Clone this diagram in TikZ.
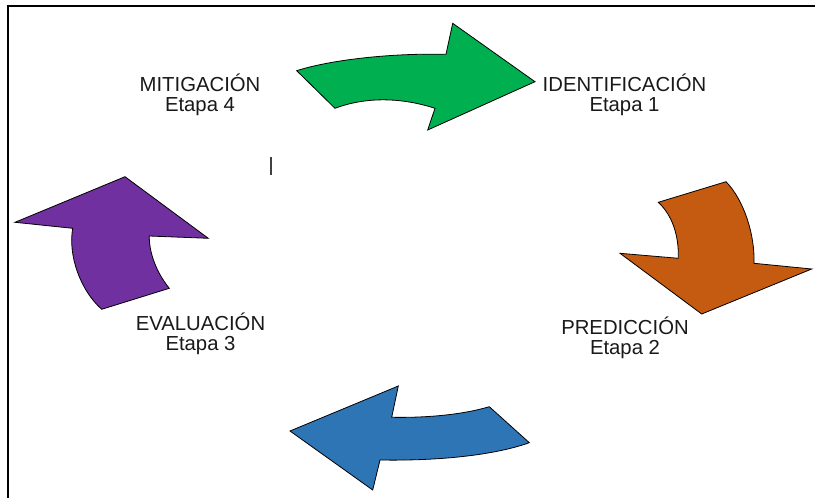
\documentclass[tikz,border=0pt]{standalone}
\usepackage{fontspec}
\setmainfont{Liberation Sans}
\definecolor{stepgreen}{HTML}{00B050}
\definecolor{steporange}{HTML}{C55A11}
\definecolor{stepblue}{HTML}{2E75B6}
\definecolor{steppurple}{HTML}{7030A0}
\begin{document}
\begin{tikzpicture}[x=1pt, y=-1pt, every node/.style={font=\fontsize{20.3}{20}\selectfont, text=black!90, inner sep=0pt, align=center}, turn/.style={draw=black, line width=0.8pt, line join=miter}]
        \useasboundingbox (0,0) rectangle (815,498);
        \draw[line width=2pt] (815,6) -- (7.5,6) -- (7.5,498);

        \draw[turn, fill=stepgreen] (296.7,70.7) .. controls (330,60) and (390,53) .. (446,54.3) -- (452.7,23.3) -- (535,81.7) -- (427.7,130) -- (435,108.3) .. controls (400,97) and (365,97) .. (335,108.3) -- cycle;
        \draw[turn, fill=steporange] (658.3,202.3) -- (726,181.7) .. controls (744,200) and (755,235) .. (754,263.3) -- (811.7,269) -- (701.7,314) -- (620,253.3) -- (678.3,258.3) .. controls (679,235) and (672,215) .. cycle;
        \draw[turn, fill=stepblue] (489.3,406.7) -- (529.3,442.7) .. controls (495,455) and (440,461) .. (380,460) -- (372.7,490) -- (290,431) -- (398.3,386) -- (391.7,417.3) .. controls (430,418) and (465,414) .. cycle;
        \draw[turn, fill=steppurple] (101.7,309.3) -- (169.3,288.3) .. controls (156,272) and (149,252) .. (149.3,236) -- (208.3,238.3) -- (125,176.7) -- (15,222.3) -- (72.7,228.3) .. controls (68,255) and (80,290) .. cycle;

        \node (ident) at (624.5,95.3) {IDENTIFICACIÓN\\Etapa 1};
        \node (pred) at (625,338.3) {PREDICCIÓN\\Etapa 2};
        \node (eval) at (200.5,334.3) {EVALUACIÓN\\Etapa 3};
        \node (mitig) at (200,95.3) {MITIGACIÓN\\Etapa 4};

        \draw[line width=1.5pt, black!75] (271,157) -- (271,175);
    \end{tikzpicture}
\end{document}
